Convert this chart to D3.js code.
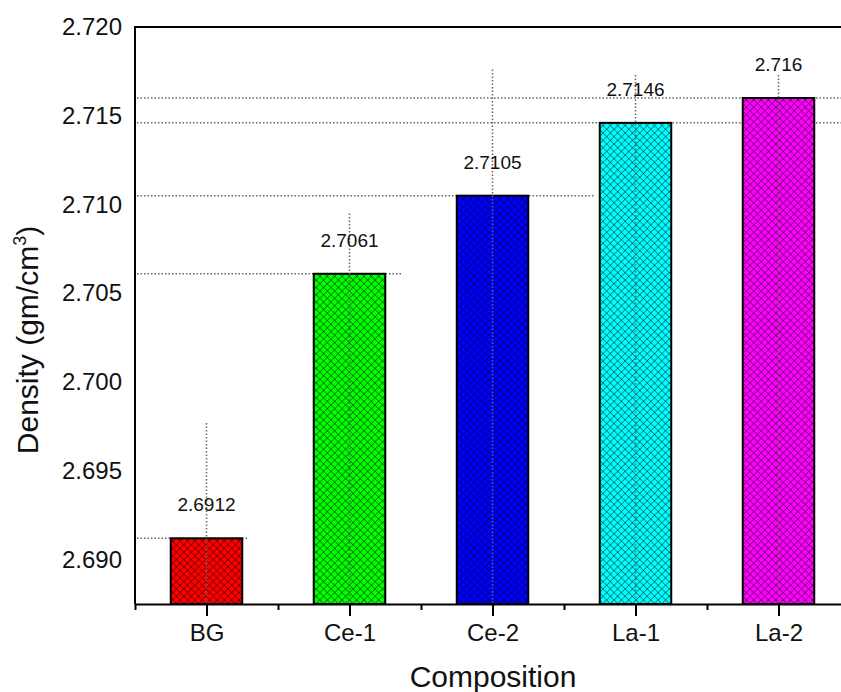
<!DOCTYPE html>
<html>
<head>
<meta charset="utf-8">
<script src="https://cdn.jsdelivr.net/npm/d3@7"></script>
<style>
  body { margin: 0; background: #fff; }
  svg { display: block; font-family: "Liberation Sans", Arial, sans-serif; }
</style>
</head>
<body>
<script>
// data
const categories = ["BG", "Ce-1", "Ce-2", "La-1", "La-2"];
const density = [2.6912, 2.7061, 2.7105, 2.7146, 2.716];
const labels = ["2.6912", "2.7061", "2.7105", "2.7146", "2.716"];
const colors = ["#ff0000", "#00ff00", "#0000ff", "#00ffff", "#ff00ff"];
// dotted drop lines: top of vertical line, right end of horizontal line (x units)
const dropTop = [2.6977, 2.7095, 2.7176, 2.7173, 2.7173];
const dropRight = [1.29, 2.37, 3.72, 6, 6];
const yTicks = [2.690, 2.695, 2.700, 2.705, 2.710, 2.715, 2.720];

const W = 841, H = 692;
const svg = d3.select("body").append("svg").attr("width", W).attr("height", H);

const x = d3.scaleLinear().domain([0.5, 5.5]).range([135, 850]);
const y = d3.scaleLinear().domain([2.6875, 2.72]).range([604, 27]);
const barW = x(1.5) - x(1);

// crosshatch pattern per colour
const defs = svg.append("defs");
const cell = 5.2;
colors.forEach((c, i) => {
    const p = defs.append("pattern")
        .attr("id", "hatch" + i)
        .attr("patternUnits", "userSpaceOnUse")
        .attr("width", cell).attr("height", cell)
        .attr("patternTransform", "rotate(45)");
    p.append("rect").attr("width", cell).attr("height", cell).attr("fill", c);
    p.append("line").attr("x1", 0).attr("y1", 0).attr("x2", cell).attr("y2", 0)
        .attr("stroke", "#000").attr("stroke-width", 1.1).attr("stroke-opacity", 0.75);
    p.append("line").attr("x1", 0).attr("y1", 0).attr("x2", 0).attr("y2", cell)
        .attr("stroke", "#000").attr("stroke-width", 1.1).attr("stroke-opacity", 0.75);
});

const dotStyle = sel => sel.attr("stroke", "#666").attr("stroke-width", 1.5)
    .attr("stroke-dasharray", "1.5,2");

// horizontal dotted lines (behind the bars)
svg.append("g").selectAll("line").data(density).join("line")
    .attr("x1", x(0.5) + 2).attr("x2", (d, i) => x(dropRight[i]))
    .attr("y1", d => y(d)).attr("y2", d => y(d))
    .call(dotStyle);

// bars
svg.append("g").selectAll("rect").data(density).join("rect")
    .attr("x", (d, i) => x(i + 1) - barW / 2)
    .attr("width", barW)
    .attr("y", d => y(d))
    .attr("height", d => y.range()[0] - y(d))
    .attr("fill", (d, i) => `url(#hatch${i})`)
    .attr("stroke", "#000").attr("stroke-width", 2);

// vertical dotted lines
svg.append("g").selectAll("line").data(dropTop).join("line")
    .attr("x1", (d, i) => x(i + 1)).attr("x2", (d, i) => x(i + 1))
    .attr("y1", d => y(d)).attr("y2", y.range()[0])
    .call(dotStyle);

// value labels
svg.append("g").selectAll("text").data(density).join("text")
    .attr("x", (d, i) => x(i + 1))
    .attr("y", d => y(d) - 27)
    .attr("text-anchor", "middle")
    .attr("font-size", 19).attr("fill", "#111")
    .text((d, i) => labels[i]);

// frame: left axis and top line
svg.append("line").attr("x1", x(0.5)).attr("x2", x(0.5)).attr("y1", y(2.72)).attr("y2", y.range()[0])
    .attr("stroke", "#000").attr("stroke-width", 2);
svg.append("line").attr("x1", x(0.5) - 1).attr("x2", W).attr("y1", y(2.72)).attr("y2", y(2.72))
    .attr("stroke", "#000").attr("stroke-width", 2);

// y axis labels (no tick marks)
const yAxis = d3.axisLeft(y).tickValues(yTicks).tickFormat(d3.format(".3f")).tickSize(0).tickPadding(13);
svg.append("g").attr("transform", `translate(${x(0.5)},0)`).call(yAxis)
    .call(g => g.select(".domain").remove())
    .call(g => g.selectAll("text").attr("font-size", 24).attr("fill", "#111").attr("font-family", null));

// x axis: major ticks at categories, minor in between
const xAxis = d3.axisBottom(x).tickValues([1, 2, 3, 4, 5])
    .tickFormat(d => categories[d - 1]).tickSizeInner(12).tickSizeOuter(0).tickPadding(8);
svg.append("g").attr("transform", `translate(0,${y.range()[0]})`).call(xAxis)
    .call(g => g.select(".domain").attr("stroke-width", 2))
    .call(g => g.selectAll(".tick line").attr("stroke-width", 2))
    .call(g => g.selectAll("text").attr("font-size", 24).attr("fill", "#111").attr("font-family", null));
svg.append("g").attr("transform", `translate(0,${y.range()[0]})`)
    .call(d3.axisBottom(x).tickValues([0.5, 1.5, 2.5, 3.5, 4.5]).tickFormat("").tickSizeInner(6).tickSizeOuter(0))
    .call(g => g.select(".domain").remove())
    .call(g => g.selectAll(".tick line").attr("stroke-width", 2));

// axis titles
svg.append("text").attr("x", 493).attr("y", 687).attr("text-anchor", "middle")
    .attr("font-size", 30).attr("fill", "#111").text("Composition");
const yt = svg.append("text").attr("transform", "translate(38,340) rotate(-90)")
    .attr("text-anchor", "middle").attr("font-size", 30).attr("fill", "#111");
yt.append("tspan").text("Density (gm/cm");
yt.append("tspan").attr("font-size", 18).attr("dy", -12).text("3");
yt.append("tspan").attr("dy", 12).text(")");
</script>
</body>
</html>
